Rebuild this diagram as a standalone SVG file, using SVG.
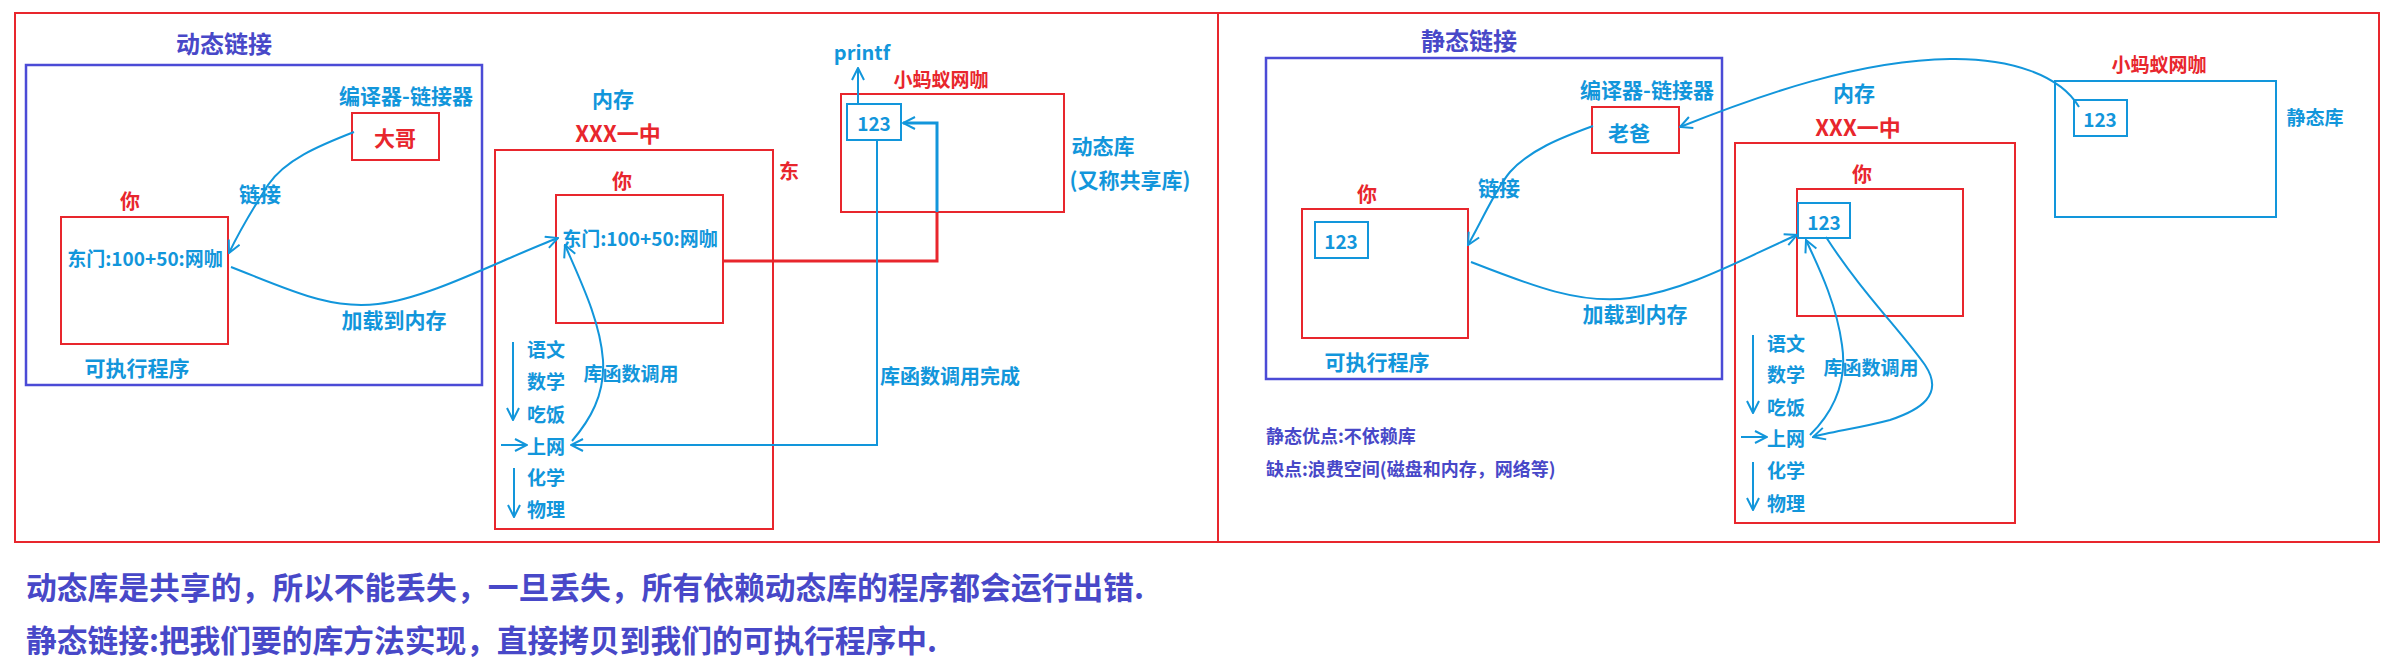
<svg xmlns="http://www.w3.org/2000/svg" width="2400" height="667" viewBox="0 0 2400 667">
<style>
text{font-family:"Noto Sans CJK SC","Noto Sans",sans-serif;font-weight:bold;dominant-baseline:central}
.c{fill:#1296db}
.r{fill:#e8262d}
.p{fill:#4848c8}
.m{text-anchor:middle}
.rb{fill:none;stroke:#e8262d;stroke-width:2}
.bb{fill:none;stroke:#4b4bd6;stroke-width:2.5}
.cb{fill:none;stroke:#1296db;stroke-width:2}
.ln{fill:none;stroke:#1296db;stroke-width:2;marker-end:url(#ah)}
</style>
<defs>
<marker id="ah" viewBox="0 0 14 14" refX="13" refY="7" markerWidth="14" markerHeight="14" markerUnits="userSpaceOnUse" orient="auto">
<path d="M1,1 L13,7 L1,13" fill="none" stroke="#1296db" stroke-width="2"/>
</marker>
</defs>
<rect width="2400" height="667" fill="#fff"/>
<g id="frame">
<rect x="15" y="13" width="2364" height="529" class="rb"/>
<line x1="1218" y1="13" x2="1218" y2="542" stroke="#e8262d" stroke-width="2"/>
</g>
<g id="dyn-title"><text x="224" y="42" class="p m" font-size="24">动态链接</text></g>
<g id="dyn-exe">
<rect x="26" y="65" width="456" height="320" class="bb"/>
<text x="137" y="367" class="c m" font-size="21">可执行程序</text>
</g>
<g id="dyn-linker">
<text x="406" y="95" class="c m" font-size="21">编译器-链接器</text>
<rect x="352" y="113" width="87" height="47" class="rb"/>
<text x="395" y="137" class="r m" font-size="21">大哥</text>
</g>
<g id="dyn-you">
<text x="130" y="200" class="r m" font-size="20">你</text>
<rect x="61" y="217" width="167" height="127" class="rb"/>
<text x="145" y="257" class="c m" font-size="19">东门:100+50:网咖</text>
</g>
<g id="dyn-mem">
<text x="613" y="98" class="c m" font-size="21">内存</text>
<text x="618" y="132" class="r m" font-size="22">XXX一中</text>
<rect x="495" y="150" width="278" height="379" class="rb"/>
<text x="789" y="170" class="r m" font-size="20">东</text>
<text x="622" y="180" class="r m" font-size="20">你</text>
<rect x="556" y="195" width="167" height="128" class="rb"/>
<text x="640" y="237" class="c m" font-size="19">东门:100+50:网咖</text>
<text x="546" y="348" class="c m" font-size="19">语文</text>
<text x="546" y="380" class="c m" font-size="19">数学</text>
<text x="546" y="413" class="c m" font-size="19">吃饭</text>
<text x="546" y="445" class="c m" font-size="19">上网</text>
<text x="546" y="476" class="c m" font-size="19">化学</text>
<text x="546" y="508" class="c m" font-size="19">物理</text>
</g>
<g id="dyn-lib">
<text x="862" y="51" class="c m" font-size="20">printf</text>
<text x="941" y="78" class="r m" font-size="19">小蚂蚁网咖</text>
<rect x="841" y="94" width="223" height="118" class="rb"/>
<rect x="847" y="104" width="54" height="36" class="cb"/>
<text x="874" y="122" class="c m" font-size="19">123</text>
<text x="1103" y="145" class="c m" font-size="21">动态库</text>
<text x="1130" y="179" class="c m" font-size="21">(又称共享库)</text>
</g>
<g id="sta-title"><text x="1469" y="39" class="p m" font-size="24">静态链接</text></g>
<g id="sta-exe">
<rect x="1266" y="58" width="456" height="321" class="bb"/>
<text x="1377" y="361" class="c m" font-size="21">可执行程序</text>
</g>
<g id="sta-linker">
<text x="1647" y="89" class="c m" font-size="21">编译器-链接器</text>
<rect x="1592" y="107" width="87" height="46" class="rb"/>
<text x="1629" y="132" class="c m" font-size="21">老爸</text>
</g>
<g id="sta-you">
<text x="1367" y="193" class="r m" font-size="20">你</text>
<rect x="1302" y="209" width="166" height="129" class="rb"/>
<rect x="1315" y="222" width="53" height="36" class="cb"/>
<text x="1341" y="240" class="c m" font-size="19">123</text>
</g>
<g id="sta-mem">
<text x="1854" y="92" class="c m" font-size="21">内存</text>
<text x="1858" y="126" class="r m" font-size="22">XXX一中</text>
<rect x="1735" y="143" width="280" height="380" class="rb"/>
<text x="1862" y="173" class="r m" font-size="20">你</text>
<rect x="1797" y="189" width="166" height="127" class="rb"/>
<rect x="1798" y="203" width="52" height="35" class="cb"/>
<text x="1824" y="221" class="c m" font-size="19">123</text>
<text x="1786" y="342" class="c m" font-size="19">语文</text>
<text x="1786" y="373" class="c m" font-size="19">数学</text>
<text x="1786" y="406" class="c m" font-size="19">吃饭</text>
<text x="1786" y="437" class="c m" font-size="19">上网</text>
<text x="1786" y="469" class="c m" font-size="19">化学</text>
<text x="1786" y="502" class="c m" font-size="19">物理</text>
</g>
<g id="sta-lib">
<text x="2159" y="63" class="r m" font-size="19">小蚂蚁网咖</text>
<rect x="2055" y="81" width="221" height="136" class="cb"/>
<rect x="2074" y="100" width="53" height="36" class="cb"/>
<text x="2100" y="118" class="c m" font-size="19">123</text>
<text x="2315" y="116" class="c m" font-size="19">静态库</text>
</g>
<g id="sta-notes">
<text x="1266" y="435" class="p" font-size="18">静态优点:不依赖库</text>
<text x="1266" y="468" class="p" font-size="18">缺点:浪费空间(磁盘和内存，网络等)</text>
</g>
<g id="summary">
<text x="26" y="585" class="p" font-size="31" textLength="1118" lengthAdjust="spacingAndGlyphs">动态库是共享的，所以不能丢失，一旦丢失，所有依赖动态库的程序都会运行出错.</text>
<text x="26" y="638" class="p" font-size="31" textLength="911" lengthAdjust="spacingAndGlyphs">静态链接:把我们要的库方法实现，直接拷贝到我们的可执行程序中.</text>
</g>
<g id="connectors">
<path d="M354,132 C318,146 285,160 268,185 C252,210 240,230 229,253" class="ln"/>
<text x="260" y="193" class="c m" font-size="21">链接</text>
<path d="M231,267 C290,290 330,310 378,304 C430,298 500,260 558,238" class="ln"/>
<text x="394" y="319" class="c m" font-size="21">加载到内存</text>
<path d="M572,441 C590,420 605,395 603,360 C600,320 580,280 565,245" class="ln"/>
<text x="631" y="372" class="c m" font-size="19">库函数调用</text>
<path d="M858,104 L858,68" class="ln"/>
<path d="M723,261 L937,261 L937,212" fill="none" stroke="#e8262d" stroke-width="3"/>
<path d="M937,212 L937,123 L903,123" fill="none" stroke="#1296db" stroke-width="3" marker-end="url(#ah)"/>
<path d="M877,140 L877,445 L571,445" class="ln"/>
<text x="950" y="375" class="c m" font-size="20">库函数调用完成</text>
<path d="M513,342 L513,420" class="ln"/>
<path d="M501,445 L527,445" class="ln"/>
<path d="M514,468 L514,517" class="ln"/>
<path d="M1593,126 C1560,138 1530,150 1510,172 C1495,190 1485,215 1468,245" class="ln"/>
<text x="1499" y="187" class="c m" font-size="21">链接</text>
<path d="M1471,262 C1530,285 1580,305 1630,298 C1690,290 1750,255 1797,235" class="ln"/>
<text x="1635" y="313" class="c m" font-size="21">加载到内存</text>
<path d="M2079,107 C2060,75 2010,58 1950,59 C1860,60 1760,95 1680,127" class="ln"/>
<path d="M1810,435 C1830,415 1848,385 1842,345 C1836,300 1815,260 1806,240" class="ln"/>
<path d="M1826,237 C1860,290 1900,330 1925,365 C1945,395 1920,410 1890,420 C1860,428 1830,432 1813,437" class="ln"/>
<text x="1871" y="366" class="c m" font-size="19">库函数调用</text>
<path d="M1753,335 L1753,413" class="ln"/>
<path d="M1741,437 L1767,437" class="ln"/>
<path d="M1753,462 L1753,510" class="ln"/>
</g>
</svg>
